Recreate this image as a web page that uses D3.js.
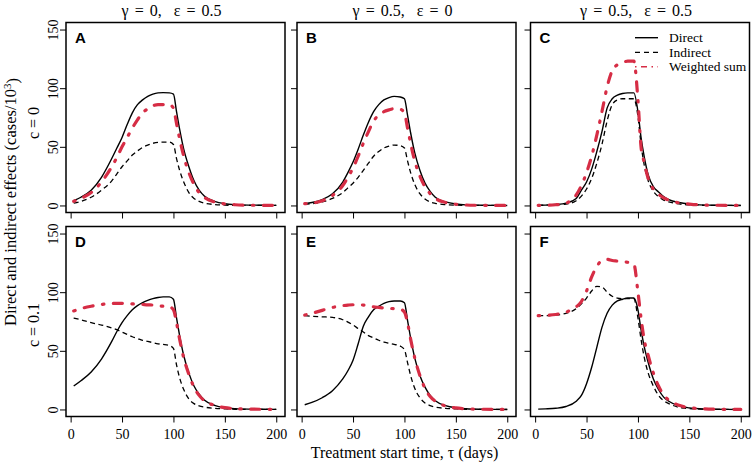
<!DOCTYPE html>
<html>
<head>
<meta charset="utf-8">
<script src="https://cdn.jsdelivr.net/npm/d3@7"></script>
<style>
  html, body { margin: 0; padding: 0; background: #ffffff; }
  svg { display: block; }
</style>
</head>
<body>
<svg id="chart" width="755" height="464"></svg>
<script>
// ---------- DATA ----------
const days = [3,10,20,30,40,45,50,55,60,65,70,75,80,85,90,96,100,103,106,110,115,120,125,130,140,150,160,175,200];

const directA   = [4,7,13,24,40,49,58,69,79,86,90,93,95,96,96.2,96,95,80,65,48,33,21,13,8,3.5,1.5,0.7,0.3,0.1];
const indirectA = [2,3.5,7,13,21,27,33,38,43,46.5,49.5,51.5,53,53.8,54,54,52,40,30,20,11,6,3.5,2,0.8,0.3,0.1,0,0];
const weightedA = [3.5,6,11,20,33,41,50,58,66,73,79,82.5,85,86,86,86,83,70,57,42,28,18,11,7,3,1.3,0.6,0.2,0.1];

const directB   = [1.5,2.5,5,10,20,28,37,48,60,71,80,86,90,92,93,92.5,91,77,62,45,30,19,12,7,3,1.2,0.5,0.2,0];
const indirectB = [1,1.5,3,6,11,15,19,24,30,36,42,46,49,50.5,51.5,51,49,38,28,18,10,5.5,3,1.8,0.7,0.3,0.1,0,0];
const weightedB = [1.5,2,4,8.5,17,24,32,42,53,63,72,77,80,81.5,82.5,82,79,66,53,38,25,16,10,6,2.5,1,0.4,0.1,0];

const directC   = [0.2,0.3,0.8,2,6,13,20,31,46,63,83,91,94,95.5,96,96,80,58,42,26,16,11.5,7.5,5,2.5,1.2,0.5,0.2,0];
const indirectC = [0.1,0.2,0.5,1.2,4,8,14,23,36,52,72,86,90,91,91,91,76,52,35,21,12,7.5,4.5,3,1.3,0.5,0.2,0.1,0];
const weightedC = [0.1,0.2,0.6,2,9,17,28,42,60,80,101,115,120,122,123,123,90,50,37,23,14,9.5,6.5,4.5,2.2,1.2,0.5,0.2,0];

const directD   = [20,24.5,32,43,58,66.5,74,80,85,88.5,91,93,94.5,95.5,96,96,94,78,63,46,31,20,13,8,3.5,1.5,0.7,0.3,0.1];
const indirectD = [78,76.5,74,72,69.5,68,66,64,62,60.5,59,58,57,56,55.5,54.5,52,38,27,17,9,5,3,2,1,0.5,0.2,0.1,0];
const weightedD = [84,86,88,89.5,90.3,90.5,90.5,90.3,90,89.8,89.5,89.2,89,88.5,88,87.5,85,74,60,44,30,19,12,7.5,3.5,1.5,0.7,0.3,0.1];

const directE   = [4,6,10,16,26,33,42,56,71,79,85,88,90.5,92,92.5,92.5,91,76,61,44,29,19,12,7.5,3.3,1.4,0.6,0.2,0];
const indirectE = [80,79.5,79,78.5,76.5,74.5,72,69,66,63,61,59,57.5,56.5,55.5,54,51,40,29,18,10,5.5,3.3,2,1,0.5,0.2,0.1,0];
const weightedE = [80.5,82,84.5,87,88.5,89,89.3,89.3,89,88.5,87.5,87,86.5,86.2,86,85.5,83,74,60,44,29,18,11,7,3,1.3,0.6,0.2,0];

const directF   = [0.3,0.5,1,2.5,7,12,22,36,53,70,82,89,92.5,94,95,95,85,68,54,40,26,17,10.5,7,3,1.4,0.6,0.2,0];
const indirectF = [80,80,80.5,82,86,90,95,101,105,104.5,100,96.5,95,94.5,94.5,94.5,78,60,45,31,20,12,7.5,5,1.8,0.8,0.3,0.1,0];
const weightedF = [80,80.3,81,83,87.5,92,101,113,122,127,128,127,126.5,126,125.5,124,100,78,60,46,31,20,12.5,8,3.5,1.5,0.7,0.2,0];

const panelLetters = ["A","B","C","D","E","F"];
const colTitles = ["\u03B3 = 0,  \u03B5 = 0.5", "\u03B3 = 0.5,  \u03B5 = 0", "\u03B3 = 0.5,  \u03B5 = 0.5"];
const rowLabels = ["c = 0", "c = 0.1"];
const xTicks = [0, 50, 100, 150, 200];
const yTicks = [0, 50, 100, 150];
const seriesNames = ["Direct", "Indirect", "Weighted sum"];
const yTitle = "Direct and indirect effects (cases/10";
const xTitle = "Treatment start time, \u03C4 (days)";

// ---------- LAYOUT ----------
const W = 755, H = 464;
const colLeft = [66, 297, 530.5];
const rowTop = [22.5, 226.5];
const pw = 219, ph = 190;
const RED = "#d62d45";
const serif = "'Liberation Serif', 'Times New Roman', serif";
const sans = "'Liberation Sans', Arial, sans-serif";

const svg = d3.select("#chart");
svg.append("rect").attr("width", W).attr("height", H).attr("fill", "#fff");

const x = d3.scaleLinear().domain([-4.5, 208.5]).range([0, pw]);
const y = d3.scaleLinear().domain([-6, 156]).range([ph, 0]);

const panelSeries = [
  [directA, indirectA, weightedA],
  [directB, indirectB, weightedB],
  [directC, indirectC, weightedC],
  [directD, indirectD, weightedD],
  [directE, indirectE, weightedE],
  [directF, indirectF, weightedF]
];

const styles = [
  {stroke: "#000", width: 1.4, dash: null, cap: "butt"},
  {stroke: "#000", width: 1.3, dash: "5,3.5", cap: "butt"},
  {stroke: RED, width: 3.2, dash: "1.5,9.5,9,9.5", cap: "round"}
];

const line = d3.line()
  .x(d => x(d[0]))
  .y(d => y(d[1]))
  .curve(d3.curveMonotoneX);

panelSeries.forEach((ser, i) => {
  const col = i % 3, row = Math.floor(i / 3);
  const g = svg.append("g").attr("transform", `translate(${colLeft[col]},${rowTop[row]})`);

  const xAxis = d3.axisBottom(x).tickValues(xTicks).tickSize(6).tickSizeOuter(0)
    .tickFormat(row === 1 ? d3.format("d") : () => "");
  const xg = g.append("g").attr("transform", `translate(0,${ph})`).call(xAxis);
  xg.select(".domain").remove();
  xg.selectAll("line").attr("stroke", "#000").attr("stroke-width", 1);
  xg.selectAll("text").attr("font-family", serif).attr("font-size", 14).attr("fill", "#000")
    .attr("dy", "0.95em");

  const yAxis = d3.axisLeft(y).tickValues(yTicks).tickSize(6).tickSizeOuter(0)
    .tickFormat(col === 0 ? d3.format("d") : () => "");
  const yg = g.append("g").call(yAxis);
  yg.select(".domain").remove();
  yg.selectAll("line").attr("stroke", "#000").attr("stroke-width", 1);
  yg.selectAll("text").attr("font-family", serif).attr("font-size", 14).attr("fill", "#000")
    .attr("text-anchor", "middle")
    .attr("x", null)
    .attr("transform", "translate(-13,0) rotate(-90)")
    .attr("dy", "0.35em");

  ser.forEach((vals, k) => {
    const pts = days.map((d, j) => [d, vals[j]]);
    const s = styles[k];
    g.append("path").datum(pts)
      .attr("d", line)
      .attr("fill", "none")
      .attr("stroke", s.stroke)
      .attr("stroke-width", s.width)
      .attr("stroke-linecap", s.cap)
      .attr("stroke-linejoin", "round")
      .attr("stroke-dasharray", s.dash);
  });

  g.append("rect").attr("width", pw).attr("height", ph)
    .attr("fill", "none").attr("stroke", "#000").attr("stroke-width", 1.5);

  g.append("text").attr("x", 9).attr("y", 20)
    .attr("font-family", sans).attr("font-weight", "bold").attr("font-size", 15)
    .attr("fill", "#000").text(panelLetters[i]);

  if (i === 2) {
    const lx0 = 104.5, lx1 = 127.5, tx = 138.5;
    const ly = [15.2, 29.8, 44.2];
    const legStyles = [
      {stroke: "#000", width: 1.4, dash: null, cap: "butt"},
      {stroke: "#000", width: 1.3, dash: "5,4", cap: "butt"},
      {stroke: RED, width: 1.5, dash: "1.5,4.5,6,4.5", cap: "butt"}
    ];
    seriesNames.forEach((nm, k) => {
      const s = legStyles[k];
      g.append("line").attr("x1", lx0).attr("x2", lx1).attr("y1", ly[k]).attr("y2", ly[k])
        .attr("stroke", s.stroke).attr("stroke-width", s.width)
        .attr("stroke-dasharray", s.dash).attr("stroke-linecap", s.cap);
      g.append("text").attr("x", tx).attr("y", ly[k]).attr("dy", "0.35em")
        .attr("font-family", serif).attr("font-size", 13.5).attr("fill", "#000").text(nm);
    });
  }
});

// column titles
colTitles.forEach((t, c) => {
  svg.append("text").attr("x", colLeft[c] + pw / 2 - 4).attr("y", 10).attr("dy", "0.35em")
    .attr("text-anchor", "middle").attr("font-family", serif).attr("font-size", 16)
    .attr("word-spacing", "2px")
    .attr("fill", "#000").attr("xml:space", "preserve").style("white-space", "pre").text(t);
});

// row labels
const rowLabelCenter = [123, 325];
rowLabels.forEach((t, r) => {
  svg.append("text")
    .attr("transform", `translate(33,${rowLabelCenter[r]}) rotate(-90)`)
    .attr("dy", "0.35em").attr("text-anchor", "middle")
    .attr("font-family", serif).attr("font-size", 16).attr("fill", "#000").text(t);
});

// y title
const yt = svg.append("text")
  .attr("transform", `translate(10,202) rotate(-90)`)
  .attr("dy", "0.35em").attr("text-anchor", "middle")
  .attr("font-family", serif).attr("font-size", 16.5).attr("fill", "#000");
yt.append("tspan").text(yTitle);
yt.append("tspan").attr("dy", "-0.45em").attr("font-size", 11).text("3");
yt.append("tspan").attr("dy", "0.45em").text(")");

// x title
svg.append("text").attr("x", colLeft[1] + pw / 2 - 2).attr("y", 452).attr("dy", "0.35em")
  .attr("text-anchor", "middle").attr("font-family", serif).attr("font-size", 16)
  .attr("fill", "#000").text(xTitle);
</script>
</body>
</html>
